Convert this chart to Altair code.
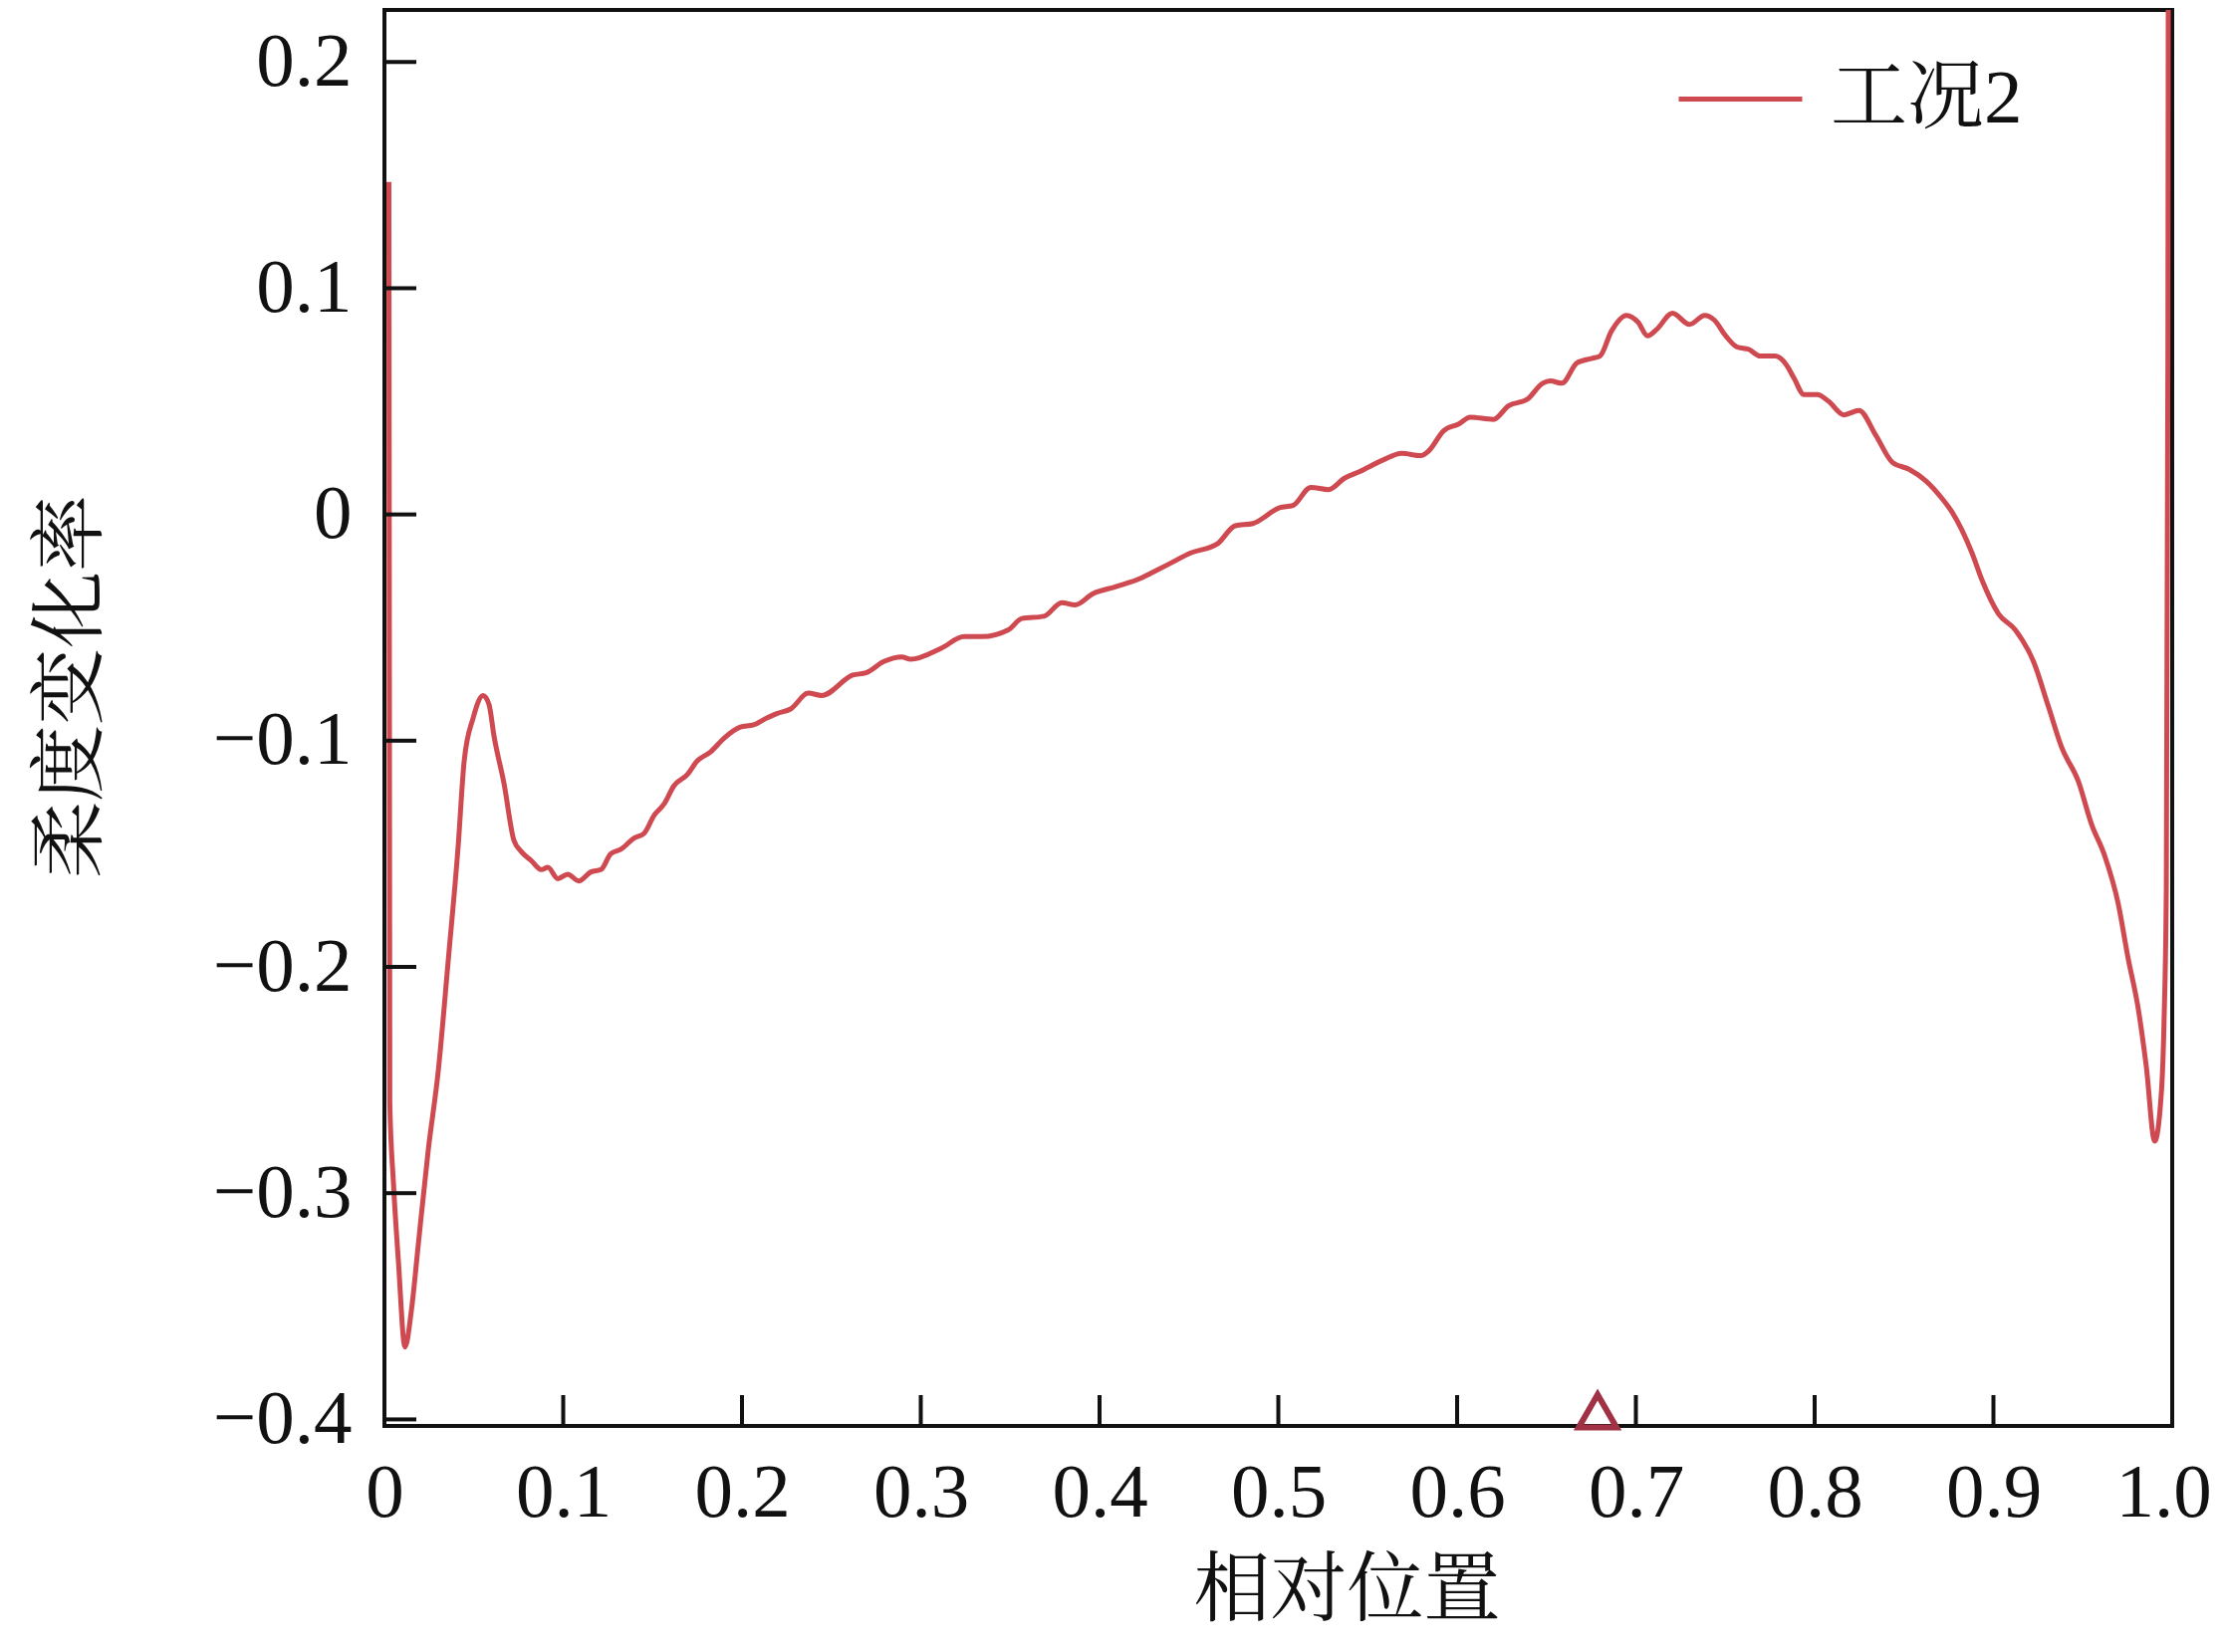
import altair as alt
import pandas as pd

# ---- data ----
pos = [0.0025, 0.0030, 0.0050, 0.0078, 0.0115, 0.0152, 0.0189, 0.0245, 0.0301, 0.0357,
       0.0412, 0.0446, 0.0496, 0.0552, 0.0585, 0.0613, 0.0669, 0.0724, 0.0765, 0.0821,
       0.0877, 0.0914, 0.0970, 0.1025, 0.1086, 0.1155, 0.1211, 0.1266, 0.1322, 0.1397,
       0.1452, 0.1508, 0.1564, 0.1619, 0.1694, 0.1749, 0.1824, 0.1898, 0.1991, 0.2065,
       0.2139, 0.2195,
       0.2272, 0.2371, 0.2446, 0.2620, 0.2694, 0.2794, 0.2894, 0.2943, 0.3117, 0.3242,
       0.3341, 0.3490, 0.3565, 0.3689, 0.3789, 0.3863, 0.3963, 0.4087, 0.4236, 0.4286,
       0.4386, 0.4510, 0.4659, 0.4759, 0.4858, 0.5007, 0.5082, 0.5182, 0.5281,
       0.5370, 0.5456, 0.5584, 0.5690, 0.5797, 0.5840, 0.5925, 0.6010, 0.6074, 0.6203,
       0.6287, 0.6394, 0.6479, 0.6522, 0.6586, 0.6671, 0.6756, 0.6799, 0.6863, 0.6948,
       0.7012, 0.7065, 0.7119, 0.7204, 0.7300, 0.7385, 0.7438, 0.7502, 0.7566, 0.7631,
       0.7695, 0.7780, 0.7843, 0.7886, 0.7940, 0.8015, 0.8078, 0.8163, 0.8248,
       0.8342, 0.8435, 0.8528, 0.8620, 0.8713, 0.8769, 0.8880, 0.8936, 0.9029, 0.9122,
       0.9224, 0.9308, 0.9382, 0.9475, 0.9549, 0.9623, 0.9698, 0.9753, 0.9809, 0.9855,
       0.9902, 0.9939, 0.9954, 0.9967, 0.9976, 0.9978]

rate = [0.147, -0.260, -0.295, -0.330, -0.368, -0.351, -0.323, -0.281, -0.246, -0.197,
        -0.147, -0.109, -0.090, -0.080, -0.084, -0.098, -0.119, -0.144, -0.149, -0.153,
        -0.157, -0.156, -0.161, -0.159, -0.162, -0.158, -0.157, -0.150, -0.148, -0.143,
        -0.141, -0.133, -0.128, -0.120, -0.115, -0.109, -0.105, -0.099, -0.094, -0.093,
        -0.090, -0.088,
        -0.086, -0.079, -0.080, -0.071, -0.070, -0.065, -0.063, -0.064, -0.059, -0.054,
        -0.054, -0.051, -0.046, -0.045, -0.039, -0.040, -0.035, -0.032, -0.028, -0.026,
        -0.022, -0.017, -0.013, -0.005, -0.004, 0.003, 0.004, 0.012, 0.011,
        0.016, 0.019, 0.024, 0.027, 0.026, 0.028, 0.037, 0.040, 0.043, 0.042,
        0.048, 0.051, 0.058, 0.059, 0.058, 0.067, 0.069, 0.070, 0.081, 0.088,
        0.085, 0.079, 0.082, 0.089, 0.084, 0.088, 0.086, 0.079, 0.074, 0.073,
        0.070, 0.070, 0.066, 0.060, 0.053, 0.053, 0.050, 0.044, 0.046,
        0.035, 0.023, 0.020, 0.015, 0.007, 0.001, -0.017, -0.029, -0.044, -0.051,
        -0.065, -0.085, -0.103, -0.118, -0.137, -0.151, -0.172, -0.196, -0.218, -0.244,
        -0.277, -0.256, -0.225, -0.165, 0.073, 0.230]

series_name = "工况2"
marker_pos = [0.6786]
marker_val = [-0.3963]
x_ticks = [0, 0.1, 0.2, 0.3, 0.4, 0.5, 0.6, 0.7, 0.8, 0.9, 1.0]
y_ticks = [-0.4, -0.3, -0.2, -0.1, 0, 0.1, 0.2]

# ---- styling ----
W, H = 1795, 1422
LINE_COLOR = "#cf4a50"
MARK_COLOR = "#a13245"
AXIS_COLOR = "#111111"
NUM_FONT = "Liberation Serif"
CJK_FONT = "Noto Serif CJK SC, Noto Sans CJK SC"
MIX_FONT = "Liberation Serif, Noto Serif CJK SC, Noto Sans CJK SC"
FS = 77

xscale = alt.Scale(domain=[0, 1], nice=False, zero=False)
yscale = alt.Scale(domain=[-0.4029, 0.2230], nice=False, zero=False)

curve_df = pd.DataFrame({"x": pos, "y": rate, "series": [series_name] * len(pos)})
marker_df = pd.DataFrame({"x": marker_pos, "y": marker_val})
xt_df = pd.DataFrame({"x": x_ticks})
yt_df = pd.DataFrame({"y": y_ticks})

x_axis = alt.Axis(
    values=x_ticks, title="相对位置", grid=False, domain=False, ticks=False,
    labelFont=NUM_FONT, labelFontSize=FS, labelColor=AXIS_COLOR, labelPadding=29,
    labelFlush=False, labelOverlap=False,
    labelOffset={"condition": {"test": "datum.value == 1", "value": -9}, "value": 0},
    labelExpr="datum.value == 0 ? '0' : format(datum.value, '.1f')",
    titleFont=CJK_FONT, titleFontSize=FS, titleFontWeight="normal", titleColor=AXIS_COLOR,
    titleX=966, titleY=166, titleAlign="center", titleBaseline="middle",
)
y_axis = alt.Axis(
    values=y_ticks, title="柔度变化率", grid=False, domain=False, ticks=False,
    labelFont=NUM_FONT, labelFontSize=FS, labelColor=AXIS_COLOR, labelPadding=33,
    labelFlush=False, labelOverlap=False, labelBaseline="middle",
    labelExpr="datum.value == 0 ? '0' : format(datum.value, '.1f')",
    titleFont=CJK_FONT, titleFontSize=FS, titleFontWeight="normal", titleColor=AXIS_COLOR,
    titleX=-314, titleY=679, titleAlign="center", titleBaseline="middle",
)

X = alt.X("x:Q", scale=xscale, axis=x_axis, title="相对位置")
Y = alt.Y("y:Q", scale=yscale, axis=y_axis, title="柔度变化率")

line = alt.Chart(curve_df).mark_line(strokeWidth=5, clip=True, interpolate="monotone").encode(
    x=X,
    y=Y,
    color=alt.Color(
        "series:N",
        scale=alt.Scale(domain=[series_name], range=[LINE_COLOR]),
        legend=alt.Legend(
            title=None, orient="none", legendX=1297, legendY=25, padding=0,
            symbolType="stroke", symbolSize=15376, symbolStrokeWidth=5,
            labelFont=MIX_FONT, labelFontSize=FS, labelColor=AXIS_COLOR, labelOffset=26,
            labelLimit=600,
        ),
    ),
)

marker = alt.Chart(marker_df).mark_point(
    shape="triangle-up", filled=False, size=1444, strokeWidth=6, color=MARK_COLOR, opacity=1
).encode(x=X, y=Y)

xticks = alt.Chart(xt_df).mark_rule(color=AXIS_COLOR, strokeWidth=4).encode(
    x=X,
    y=alt.value(H),
    y2=alt.value(H - 31),
)

yticks = alt.Chart(yt_df).mark_rule(color=AXIS_COLOR, strokeWidth=4).encode(
    y=Y,
    x=alt.value(0),
    x2=alt.value(32),
)

chart = (
    alt.layer(line, xticks, yticks, marker)
    .properties(
        width=W, height=H,
        autosize=alt.AutoSizeParams(type="none"),
        padding={"left": 378, "top": 2, "right": 45, "bottom": 219},
        background="white",
    )
    .configure_view(stroke=AXIS_COLOR, strokeWidth=4)
)

chart.save("out.html", embed_options={"renderer": "svg", "actions": False})
